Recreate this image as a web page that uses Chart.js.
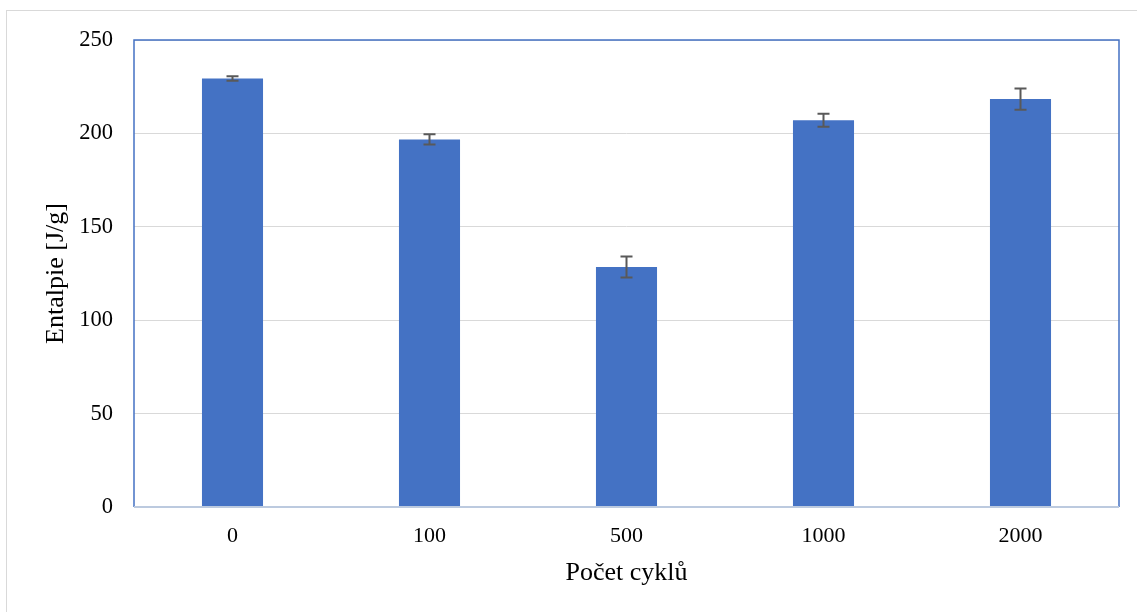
<!DOCTYPE html>
<html>
<head>
<meta charset="utf-8">
<script src="https://cdn.jsdelivr.net/npm/chart.js@4/dist/chart.umd.min.js"></script>
<style>
  html, body { margin: 0; padding: 0; background: #fff; }
  #wrap { width: 1137px; height: 612px; }
</style>
</head>
<body>
<div id="wrap"><canvas id="myChart" width="1137" height="612"></canvas></div>
<script>
// Data
const cycles = ['0', '100', '500', '1000', '2000'];
const enthalpy = [229.4, 196.8, 128.5, 207.0, 218.4];
const errors = [1.2, 2.7, 5.6, 3.5, 5.7];
const yTicks = [0, 50, 100, 150, 200, 250];

const serif = "'Liberation Serif', 'Times New Roman', serif";

// outer frame + plot frame
const framePlugin = {
    id: 'frames',
    beforeDraw(chart) {
        const ctx = chart.ctx;
        ctx.save();
        ctx.fillStyle = '#ffffff';
        ctx.fillRect(0, 0, chart.width, chart.height);
        ctx.strokeStyle = '#d9d9d9';
        ctx.lineWidth = 1;
        ctx.strokeRect(6.5, 10.5, chart.width + 20, chart.height + 20);
        ctx.restore();
    },
    beforeDatasetsDraw(chart) {
        const a = chart.chartArea;
        const ctx = chart.ctx;
        ctx.save();
        ctx.strokeStyle = '#4472c4';
        ctx.lineWidth = 1.5;
        ctx.beginPath();
        ctx.moveTo(a.left, a.bottom);
        ctx.lineTo(a.left, a.top);
        ctx.lineTo(a.right, a.top);
        ctx.lineTo(a.right, a.bottom);
        ctx.stroke();
        ctx.restore();
    },
    afterDatasetsDraw(chart) {
        const a = chart.chartArea;
        const ctx = chart.ctx;
        ctx.save();
        ctx.strokeStyle = '#bccadf';
        ctx.lineWidth = 2;
        ctx.beginPath();
        ctx.moveTo(a.left, a.bottom);
        ctx.lineTo(a.right, a.bottom);
        ctx.stroke();
        ctx.restore();
    }
};

// error bars drawn through the y scale
const errorBarPlugin = {
    id: 'errorBars',
    afterDatasetsDraw(chart) {
        const ctx = chart.ctx;
        const y = chart.scales.y;
        const meta = chart.getDatasetMeta(0);
        ctx.save();
        ctx.strokeStyle = '#595959';
        ctx.lineWidth = 2;
        meta.data.forEach((bar, i) => {
            const yTop = y.getPixelForValue(enthalpy[i] + errors[i]);
            const yBot = y.getPixelForValue(enthalpy[i] - errors[i]);
            ctx.beginPath();
            ctx.moveTo(bar.x, yTop);
            ctx.lineTo(bar.x, yBot);
            ctx.moveTo(bar.x - 6, yTop);
            ctx.lineTo(bar.x + 6, yTop);
            ctx.moveTo(bar.x - 6, yBot);
            ctx.lineTo(bar.x + 6, yBot);
            ctx.stroke();
        });
        ctx.restore();
    }
};

const ctx = document.getElementById('myChart').getContext('2d');

const myChart = new Chart(ctx, {
    type: 'bar',
    data: {
        labels: cycles,
        datasets: [{
            label: 'Entalpie',
            data: enthalpy,
            backgroundColor: '#4472c4',
            borderWidth: 0,
            categoryPercentage: 1,
            barPercentage: 0.31
        }]
    },
    options: {
        responsive: false,
        animation: false,
        layout: { padding: { left: 0, top: 40, right: 18, bottom: 0 } },
        plugins: {
            legend: { display: false },
            tooltip: { enabled: false }
        },
        scales: {
            x: {
                grid: { display: false, drawTicks: false },
                border: { display: false },
                ticks: {
                    color: '#000',
                    font: { family: serif, size: 22 },
                    padding: 16
                },
                title: {
                    display: true,
                    text: 'Počet cyklů',
                    color: '#000',
                    font: { family: serif, size: 26 },
                    padding: { top: 0, bottom: 23 }
                },
                afterFit(scale) { scale.height = 105; }
            },
            y: {
                min: 0,
                max: 250,
                afterBuildTicks(scale) {
                    scale.ticks = yTicks.map(v => ({ value: v }));
                },
                grid: {
                    color: '#d9d9d9',
                    lineWidth: 1,
                    drawTicks: false
                },
                border: { display: false },
                ticks: {
                    color: '#000',
                    font: { family: serif, size: 22.5 },
                    padding: 21
                },
                title: {
                    display: true,
                    text: 'Entalpie [J/g]',
                    color: '#000',
                    font: { family: serif, size: 26 },
                    padding: { top: 41, bottom: 0 }
                },
                afterFit(scale) { scale.width = 134; }
            }
        }
    },
    plugins: [framePlugin, errorBarPlugin]
});
</script>
</body>
</html>
